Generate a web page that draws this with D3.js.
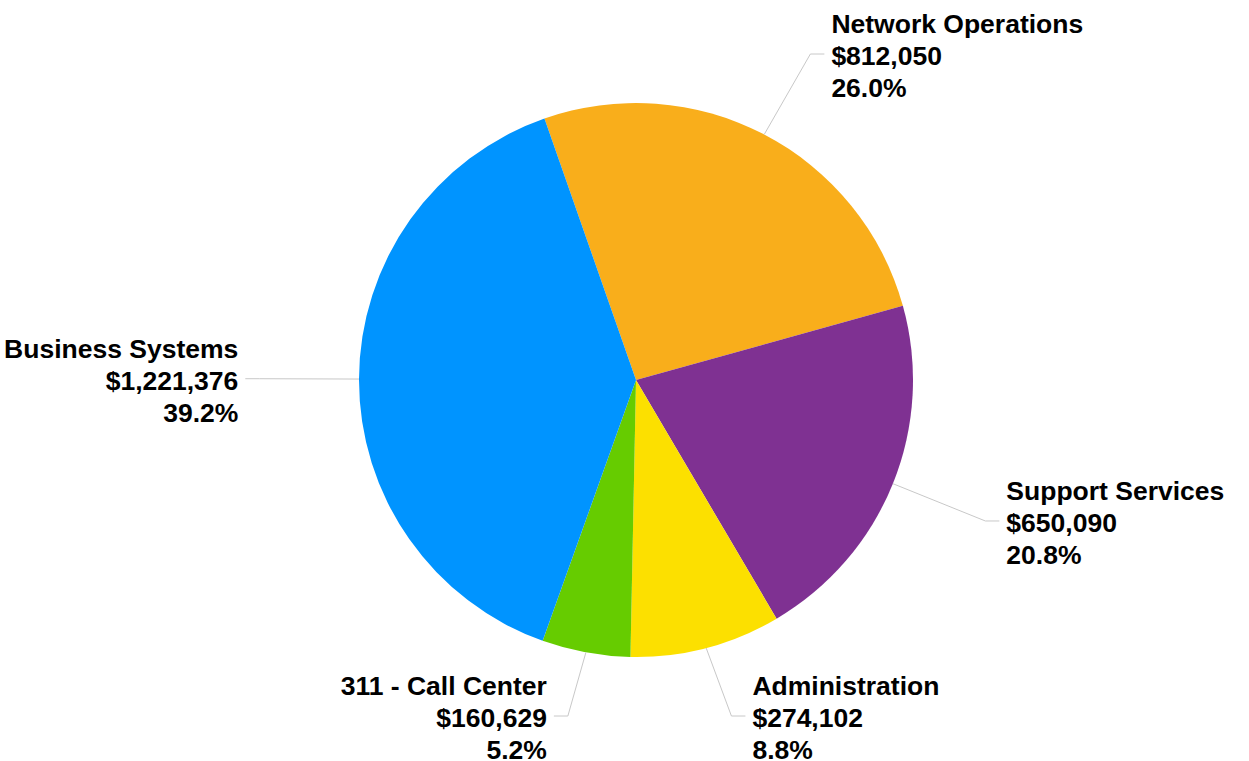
<!DOCTYPE html>
<html>
<head>
<meta charset="utf-8">
<script src="https://cdn.jsdelivr.net/npm/d3@7"></script>
<style>
  body { margin: 0; background: #fff; }
  svg { display: block; }
  text { font-family: "Liberation Sans", Arial, sans-serif; font-weight: bold; font-size: 26.5px; fill: #000; }
</style>
</head>
<body>
<div id="chart"></div>
<script>
var width = 1249;
var height = 761;

// slices, clockwise from the top
var categories = ["Network Operations", "Support Services", "Administration", "311 - Call Center", "Business Systems"];
var amounts = [812050, 650090, 274102, 160629, 1221376];
var colors = ["#F9AE1B", "#7F3192", "#FCE000", "#66CC00", "#0094FF"];

var cx = 636, cy = 380, radius = 277;
var startAngle = -19.3 * Math.PI / 180;

var data = categories.map((c, i) => ({name: c, amount: amounts[i], color: colors[i]}));
var total = d3.sum(amounts);

var pie = d3.pie()
  .value(d => d.amount)
  .sort(null)
  .startAngle(startAngle)
  .endAngle(startAngle + 2 * Math.PI);

var arc = d3.arc().innerRadius(0).outerRadius(radius);

var svg = d3.select("#chart").append("svg")
  .attr("width", width)
  .attr("height", height);

var g = svg.append("g").attr("transform", `translate(${cx},${cy})`);

var arcs = pie(data);

g.selectAll("path.slice")
  .data(arcs)
  .join("path")
    .attr("class", "slice")
    .attr("d", arc)
    .attr("fill", d => d.data.color);

var money = d3.format("$,");
var pct = d3.format(".1%");

function polar(r, a) { return [r * Math.sin(a), -r * Math.cos(a)]; }

var labels = arcs.map(d => {
  var mid = (d.startAngle + d.endAngle) / 2;
  var p0 = polar(radius, mid);
  var p1 = polar(radius * 1.36, mid);
  p1[1] = Math.max(-cy + 54, Math.min(p1[1], 336));
  var right = Math.sin(mid) > 0;
  var p2 = [p1[0] + (right ? 14 : -14), p1[1]];
  return {d, p0, p1, p2, right};
});

g.selectAll("polyline.leader")
  .data(labels)
  .join("polyline")
    .attr("class", "leader")
    .attr("points", l => [l.p0, l.p1, l.p2].map(p => p.join(",")).join(" "))
    .attr("fill", "none")
    .attr("stroke", "#c8c8c8")
    .attr("stroke-width", 1);

var txt = g.selectAll("text.lbl")
  .data(labels)
  .join("text")
    .attr("class", "lbl")
    .attr("text-anchor", l => l.right ? "start" : "end")
    .attr("x", l => l.p2[0] + (l.right ? 7 : -7))
    .attr("y", l => l.p2[1] + 11);

txt.each(function(l) {
  var t = d3.select(this);
  var lines = [l.d.data.name, money(l.d.data.amount), pct(l.d.data.amount / total)];
  lines.forEach((s, i) => {
    t.append("tspan")
      .attr("x", l.p2[0] + (l.right ? 7 : -7))
      .attr("dy", i === 0 ? -32 : 32)
      .text(s);
  });
});
</script>
</body>
</html>
